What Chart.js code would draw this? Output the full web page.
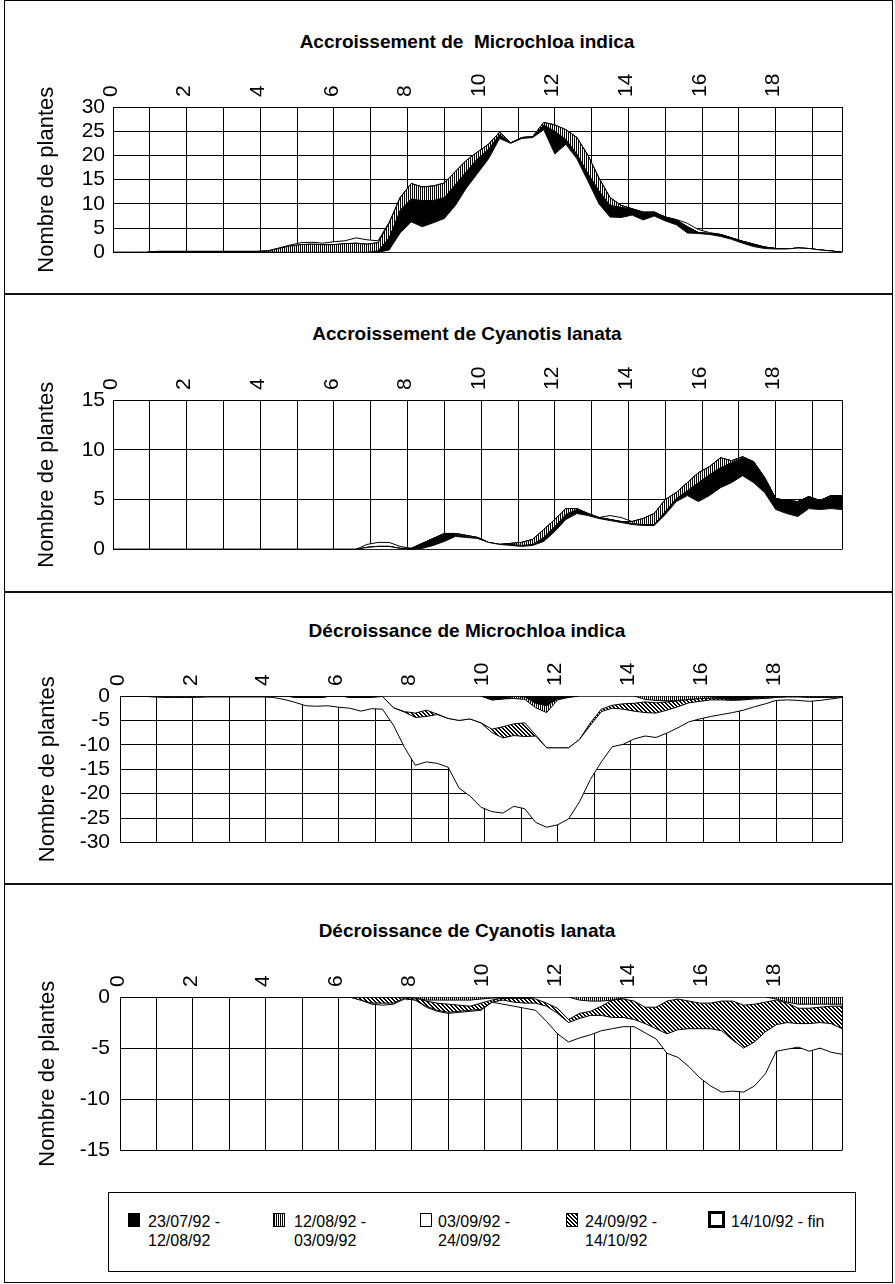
<!DOCTYPE html>
<html>
<head>
<meta charset="utf-8">
<script src="https://cdn.jsdelivr.net/npm/chart.js@4.4.1/dist/chart.umd.min.js"></script>
<style>
  body { margin: 0; background: #fff; }
  #page { position: relative; width: 895px; height: 1284px; overflow: hidden; background: #fff;
          font-family: 'Liberation Sans', Arial, sans-serif; color: #000; }
  .frame { position: absolute; left: 4px; top: 0; width: 887px; height: 1281px; border: 1px solid #000; }
  .sep { position: absolute; left: 4px; width: 889px; height: 2px; background: #111; }
  .title { position: absolute; left: 0; width: 934px; text-align: center; font-weight: bold;
           font-size: 19px; line-height: 22px; white-space: pre; }
  canvas { position: absolute; left: 0; }
  .legend { position: absolute; left: 108px; top: 1192px; width: 748px; height: 80px;
            box-sizing: border-box; border: 1px solid #000; }
  .sw { position: absolute; box-sizing: border-box; border: 1px solid #000; }
  .lt { position: absolute; top: 1212px; font-size: 16px; line-height: 19px; white-space: nowrap; }
</style>
</head>
<body>
<div id="page">
  <div class="frame"></div>
  <div class="sep" style="top:293px"></div>
  <div class="sep" style="top:591px"></div>
  <div class="sep" style="top:883px"></div>

  <div class="title" style="top:31px">Accroissement de  Microchloa indica</div>
  <div class="title" style="top:323px">Accroissement de Cyanotis lanata</div>
  <div class="title" style="top:620px">Décroissance de Microchloa indica</div>
  <div class="title" style="top:920px">Décroissance de Cyanotis lanata</div>

  <canvas id="c1" width="895" height="216" style="top:57px"></canvas>
  <canvas id="c2" width="895" height="220" style="top:350px"></canvas>
  <canvas id="c3" width="895" height="219" style="top:646px"></canvas>
  <canvas id="c4" width="895" height="226" style="top:947px"></canvas>

  <div class="legend"></div>
  <div id="legendItems"></div>
</div>

<script>
// x positions along the transect
const xs = [0,0.3,0.6,0.9,1.2,1.5,1.8,2.1,2.4,2.7,
  3,3.3,3.6,3.9,4.2,4.5,4.8,5.1,5.4,5.7,
  6,6.3,6.6,6.9,7.2,7.5,7.8,8.1,8.4,8.7,
  9,9.3,9.6,9.9,10.2,10.5,10.8,11.1,11.4,11.7,
  12,12.3,12.6,12.9,13.2,13.5,13.8,14.1,14.4,14.7,
  15,15.3,15.6,15.9,16.2,16.5,16.8,17.1,17.4,17.7,
  18,18.3,18.6,18.9,19.2,19.5,19.8];

const periodLabels = ["23/07/92 - 12/08/92", "12/08/92 - 03/09/92", "03/09/92 - 24/09/92",
  "24/09/92 - 14/10/92", "14/10/92 - fin"];
const legendLines = [["23/07/92 -", "12/08/92"], ["12/08/92 -", "03/09/92"], ["03/09/92 -", "24/09/92"],
  ["24/09/92 -", "14/10/92"], ["14/10/92 - fin"]];

// Accroissement de Microchloa indica
const accMicro_p1 = [0,0,0,0,0.2,0.2,0.2,0.2,0.2,0.2,
  0.2,0.2,0.2,0.2,0.1,0,0,0,0,0,
  0,0,0,0,0.3,2.5,4.7,4.7,5.4,4.6,
  4.3,4.3,3.4,3.0,2.0,0.8,0,0,0,1.0,
  4.7,1.0,1.0,1.6,2.7,2.4,2.1,1.2,1.5,0.8,
  0.8,0.9,1.3,0.2,0.2,0.4,0.3,0.4,0.5,0.3,
  0.1,0,0,0,0,0,0];
const accMicro_p2 = [0,0,0,0,0,0,0,0,0,0,
  0,0,0,0,0.2,0.8,1.3,1.6,1.7,1.6,
  1.6,1.8,1.9,1.7,1.7,3.0,2.6,3.2,2.8,3.0,
  3.0,2.7,2.3,1.4,1.0,0.5,0.1,0.2,0.2,0.5,
  1.3,2.0,3.4,3.7,2.6,1.6,0.4,0.1,0.1,0,
  0,0.1,0,0,0,0,0,0,0,0,
  0,0,0,0,0,0,0];
const accMicro_p3 = [0,0,0,0,0,0,0,0,0,0,
  0,0,0,0,0,0,0,0,0,0,
  0,0,0,0,0,0.5,4,6.3,5.3,6.1,
  7,9.7,13.3,16.3,19.3,23.5,22.5,23.5,23.7,25.3,
  20.3,22.3,19.3,14.7,10,7.3,7.2,7.7,6.7,7.5,
  6.5,5.7,4,3.9,3.7,3.3,2.7,1.9,1.2,0.8,
  0.7,0.7,0.9,0.8,0.5,0.3,0];
const accMicro_p4 = [0,0,0,0,0,0,0,0,0,0,
  0,0,0,0,0,0,0,0,0,0,
  0,0,0,0,0,0,0,0,0,0,
  0,0,0,0,0,0,0,0,0,0,
  0,0,0,0,0,0,0,0,0,0,
  0,0,0,0,0,0,0,0,0,0,
  0,0,0,0,0,0,0];
const accMicro_p5 = [0,0,0,0,0,0,0,0,0,0,
  0,0,0,0,0,0.1,0.2,0.4,0.4,0.3,
  0.6,0.6,1.1,0.9,0.4,0.2,0,0,0,0,
  0,0,0,0,0,0,0,0,0,0,
  0,0,0,0,0,0,0,0,0,0,
  0,0.1,0.7,0.6,0.2,0,0,0,0,0,
  0,0,0,0,0,0,0];

// Accroissement de Cyanotis lanata
const accCyan_p1 = [0,0,0,0,0,0,0,0,0,0,
  0,0,0,0,0,0,0,0,0,0,
  0,0,0,0,0,0,0,0.1,0.5,0.7,
  0.7,0.2,0.1,0,0,0,0.1,0.1,0.1,0.4,
  0.5,0.5,0.4,0.2,0.1,0.1,0.1,0.1,0.1,0.1,
  0.3,0.3,0.5,1.9,2.1,2.0,2.0,1.8,2.1,1.5,
  1.1,1.3,1.5,1.2,0.9,1.3,1.4];
const accCyan_p2 = [0,0,0,0,0,0,0,0,0,0,
  0,0,0,0,0,0,0,0,0,0,
  0,0,0,0,0,0,0,0,0,0,
  0.1,0.1,0.1,0.1,0,0,0.1,0.3,0.5,0.8,
  0.7,0.6,0.1,0,0,0,0,0.2,0.6,1.1,
  1.2,0.6,0.8,1.0,0.8,1.0,0.2,0.1,0,0,
  0,0,0,0,0,0,0];
const accCyan_p3 = [0,0,0,0,0,0,0,0,0,0,
  0,0,0,0,0,0,0,0,0,0,
  0,0,0,0.2,0.3,0.3,0.1,0,0.1,0.4,
  0.8,1.3,1.2,1.1,0.7,0.5,0.4,0.3,0.4,0.8,
  1.8,3.0,3.6,3.4,3.1,2.9,2.7,2.5,2.4,2.4,
  3.5,4.8,5.4,4.8,5.4,6.2,6.7,7.4,6.7,5.7,
  4.0,3.6,3.3,4.1,4.0,4.1,4.0];
const accCyan_p4 = [0,0,0,0,0,0,0,0,0,0,
  0,0,0,0,0,0,0,0,0,0,
  0,0,0,0,0,0,0,0,0,0,
  0,0,0,0,0,0,0,0,0,0,
  0,0,0,0,0,0,0,0,0,0,
  0,0,0,0,0,0,0,0,0,0,
  0,0,0,0,0,0,0];
const accCyan_p5 = [0,0,0,0,0,0,0,0,0,0,
  0,0,0,0,0,0,0,0,0,0,
  0,0,0,0.3,0.4,0.4,0.2,0,0,0,
  0,0,0,0,0,0,0,0,0,0,
  0,0,0,0,0,0.4,0.4,0,0,0,
  0,0,0,0,0,0,0,0,0,0,
  0,0,0,0,0,0,0];

// Décroissance de Microchloa indica
const decMicro_p1 = [0,0,0,0,0,0,0,0,0,0,
  0,0,0,0,0,0,-0.2,-0.3,-0.3,-0.1,
  0,-0.2,-0.3,-0.2,0,0,0,0,0,0,
  0,0,0,0,-0.8,-0.6,-0.1,-0.2,-1.5,-2.0,
  -0.6,-0.2,0,0,0,0,0,0,0,0,
  0,0,0,0,-0.1,-0.4,-0.6,-0.5,-0.3,-0.2,
  -0.1,0,0,0,0,0,0];
const decMicro_p2 = [0,0,0,0,0,0,0,0,0,0,
  0,0,0,0,0,0,0,0,0,0,
  0,0,0,0,0,0,0,0,0,0,
  0,0,0,0,0,0,-0.4,-0.5,-0.9,-1.4,
  -0.2,-0.1,0,0,0,0,0,0,-0.7,-0.9,
  -1.0,-0.9,-0.7,-0.5,-0.3,-0.1,-0.1,-0.1,-0.1,-0.1,
  0,0,0,0,0,0,0];
const decMicro_p3 = [0,0,0,0,0,0,0,0,0,0,
  0,0,0,0,0,0,0,0,0,0,
  0,0,0,0,-0.1,-2.4,-3.2,-3.5,-2.9,-3.7,
  -4.6,-5.0,-4.7,-5.5,-6.0,-5.7,-5.2,-4.8,-5.6,-7.2,
  -9.8,-10.3,-8.9,-5.5,-2.7,-1.9,-1.6,-1.5,-0.5,-0.5,
  -0.2,-0.1,0,0,0,0,0,0,0,0,
  0,0,0,0,0,0,0];
const decMicro_p4 = [0,0,0,0,0,0,0,0,0,0,
  0,0,0,0,0,0,0,0,0,0,
  0,0,0,0,0,0,-0.1,-0.9,-1.3,-0.1,
  0,0,0,0,-0.7,-2.3,-2.4,-2.8,-0.2,0,
  0,0,0,-0.5,-0.5,-0.6,-1.1,-1.6,-2.2,-2.1,
  -1.7,-1.2,-0.7,-0.6,-0.4,-0.3,-0.2,-0.2,-0.2,-0.2,
  -0.2,-0.2,-0.2,-0.3,-0.3,-0.3,-0.2];
const decMicro_p5 = [0,0,0,-0.2,-0.3,-0.3,-0.3,-0.3,-0.2,-0.2,
  -0.2,-0.2,-0.2,-0.2,-0.3,-0.7,-1.1,-1.7,-1.8,-1.9,
  -2.3,-2.3,-2.8,-2.4,-2.6,-3.6,-7.2,-9.8,-9.3,-10.0,
  -10.0,-13.9,-15.8,-17.3,-16.2,-15.4,-14.5,-14.8,-17.7,-16.3,
  -15.8,-14.6,-12.8,-11.1,-10.3,-7.9,-7.2,-5.7,-4.8,-5.0,
  -4.7,-4.3,-3.9,-3.6,-3.4,-3.0,-2.5,-2.1,-1.6,-1.1,
  -0.6,-0.6,-0.7,-0.8,-0.6,-0.3,-0.1];

// Décroissance de Cyanotis lanata
const decCyan_p1 = [0,0,0,0,0,0,0,0,0,0,
  0,0,0,0,0,0,0,0,0,0,
  0,0,0,0,0,0,0,0,0,0,
  0,0,0,0,0,-0.1,-0.1,-0.1,0,0,
  0,0,0,0,0,0,0,0,0,0,
  0,0,0,0,0,0,0,0,0,0,
  0,0,0,0,0,0,0];
const decCyan_p2 = [0,0,0,0,0,0,0,0,0,0,
  0,0,0,0,0,0,0,0,0,0,
  0,0,0,0,0,0,0,-0.1,-0.3,-0.3,
  -0.3,-0.3,-0.3,-0.2,-0.1,0,0,0,0,0,
  0,0,-0.3,-0.4,-0.4,-0.3,-0.1,0,0,0,
  0,0,0,0,0,0,0,0,0,0,
  -0.2,-0.5,-0.7,-0.7,-0.7,-0.7,-0.7];
const decCyan_p3 = [0,0,0,0,0,0,0,0,0,0,
  0,0,0,0,0,0,0,0,0,0,
  0,0,0,0,0,0,0,0,-0.1,-0.3,
  -0.4,-0.5,-0.6,-0.4,-0.2,0,0,0,-0.2,-0.6,
  -1.1,-2.2,-1.3,-1.0,-0.5,0,-0.1,-0.4,-1.0,-1.0,
  -0.4,-0.2,-0.4,-0.6,-0.6,-0.4,-0.4,-0.8,-0.7,-0.5,
  -0.1,-0.1,-0.4,-0.4,-0.3,-0.2,-0.2];
const decCyan_p4 = [0,0,0,0,0,0,0,0,0,0,
  0,0,0,0,0,0,0,0,0,0,
  0,0,-0.3,-0.6,-0.6,-0.6,-0.1,-0.2,-0.5,-0.7,
  -0.8,-0.6,-0.4,-0.6,-0.2,-0.2,-0.4,-0.5,-0.4,-0.3,
  -0.5,-0.3,-0.5,-0.4,-0.9,-1.7,-1.8,-1.8,-1.6,-2.1,
  -3.2,-3.0,-2.7,-2.5,-2.5,-2.9,-3.8,-4.2,-3.7,-2.9,
  -2.4,-1.9,-1.5,-1.5,-1.5,-1.7,-2.2];
const decCyan_p5 = [0,0,0,0,0,0,0,0,0,0,
  0,0,0,0,0,0,0,0,0,0,
  0,0,0,-0.1,-0.2,-0.1,-0.1,0,-0.1,-0.1,
  -0.1,-0.1,-0.1,-0.1,0,-0.4,-0.4,-0.5,-0.7,-1.5,
  -2.0,-1.9,-1.9,-1.9,-1.5,-1.1,-0.9,-0.7,-0.9,-1.0,
  -1.9,-2.7,-3.7,-4.8,-5.6,-6.0,-5.0,-4.3,-4.3,-4.1,
  -2.6,-2.6,-2.3,-2.7,-2.5,-2.8,-2.5];

Chart.defaults.font.family = "'Liberation Sans', Arial, sans-serif";
Chart.defaults.color = "#000";

// fill patterns like the printed chart
function makePattern(w, h, isInk) {
  const c = document.createElement("canvas");
  c.width = w;
  c.height = h;
  const g = c.getContext("2d");
  g.fillStyle = "#fff";
  g.fillRect(0, 0, w, h);
  g.fillStyle = "#000";
  for (let y = 0; y < h; y++) {
    for (let x = 0; x < w; x++) {
      if (isInk(x, y)) g.fillRect(x, y, 1, 1);
    }
  }
  return g.createPattern(c, "repeat");
}
const stripes = makePattern(2, 2, (x) => x === 0);
const hatch = makePattern(4, 4, (x, y) => (x - y + 4) % 4 < 2);
const fills = ["#000", stripes, "#fff", hatch, "#fff"];

function layer(p, values) {
  return { label: periodLabels[p], values: values, fill: fills[p] };
}

function buildChart(id, layers, yMin, yMax, axisWidth, tickPad, titlePad) {
  const ctx = document.getElementById(id).getContext("2d");
  return new Chart(ctx, {
    type: "line",
    data: {
      datasets: layers.map((l, i) => ({
        label: l.label,
        data: l.values.map((v, j) => ({ x: xs[j], y: v })),
        backgroundColor: l.fill,
        borderColor: "#000",
        borderWidth: 1,
        pointRadius: 0,
        tension: 0,
        fill: i === 0 ? "origin" : "-1",
      })),
    },
    options: {
      responsive: false,
      animation: false,
      events: [],
      layout: { padding: { top: 14, bottom: 16, left: 0, right: 53 } },
      plugins: { legend: { display: false }, tooltip: { enabled: false } },
      scales: {
        x: {
          type: "linear",
          position: "top",
          min: 0,
          max: 19.8,
          grid: { color: "#000", lineWidth: 1, drawTicks: false },
          border: { color: "#000", width: 1 },
          ticks: {
            stepSize: 1,
            autoSkip: false,
            minRotation: 90,
            maxRotation: 90,
            padding: 10,
            labelOffset: 23, // rotated top labels sit one line left of the tick otherwise
            font: { size: 21 },
            callback: (v) => (v % 2 === 0 ? String(v) : ""),
          },
          afterFit: (s) => { s.height = 36; },
        },
        y: {
          stacked: true,
          min: yMin,
          max: yMax,
          grid: { color: "#000", lineWidth: 1, drawTicks: false },
          border: { color: "#000", width: 1 },
          ticks: { stepSize: 5, autoSkip: false, padding: tickPad, font: { size: 21 } },
          title: {
            display: true,
            text: "Nombre de plantes",
            font: { size: 22 },
            padding: { top: titlePad, bottom: 0 },
          },
          afterFit: (s) => { s.width = axisWidth; },
        },
      },
    },
  });
}

// increases: white base, then black, stripes, and the later periods on top
buildChart("c1", [layer(2, accMicro_p3), layer(0, accMicro_p1), layer(1, accMicro_p2),
  layer(3, accMicro_p4), layer(4, accMicro_p5)], 0, 30, 113, 8, 34);
buildChart("c2", [layer(2, accCyan_p3), layer(0, accCyan_p1), layer(1, accCyan_p2),
  layer(3, accCyan_p4), layer(4, accCyan_p5)], 0, 15, 113, 8, 34);
// decreases: stacked downward from 0 in period order
buildChart("c3", [layer(0, decMicro_p1), layer(1, decMicro_p2), layer(2, decMicro_p3),
  layer(3, decMicro_p4), layer(4, decMicro_p5)], -30, 0, 120, 10, 35);
buildChart("c4", [layer(0, decCyan_p1), layer(1, decCyan_p2), layer(2, decCyan_p3),
  layer(3, decCyan_p4), layer(4, decCyan_p5)], -15, 0, 120, 10, 35);

// legend box under the last chart
const swatchX = [128, 273, 420, 566, 708];
const textX = [148, 294, 438, 585, 731];
const swatchCss = [
  "background:#000;width:12px;height:14px;top:1213px;",
  "background:repeating-linear-gradient(90deg,#000 0 1px,#fff 1px 2px);width:12px;height:14px;top:1213px;",
  "background:#fff;width:12px;height:14px;top:1213px;",
  "background:repeating-linear-gradient(45deg,#000 0 1.4px,#fff 1.4px 2.8px);width:12px;height:14px;top:1213px;",
  "background:#fff;width:17px;height:17px;top:1211px;border-width:3px;",
];
const holder = document.getElementById("legendItems");
legendLines.forEach((lines, i) => {
  const sw = document.createElement("div");
  sw.className = "sw";
  sw.style.cssText = "left:" + swatchX[i] + "px;" + swatchCss[i];
  holder.appendChild(sw);
  const t = document.createElement("div");
  t.className = "lt";
  t.style.left = textX[i] + "px";
  t.innerHTML = lines.join("<br>");
  holder.appendChild(t);
});
</script>
</body>
</html>
